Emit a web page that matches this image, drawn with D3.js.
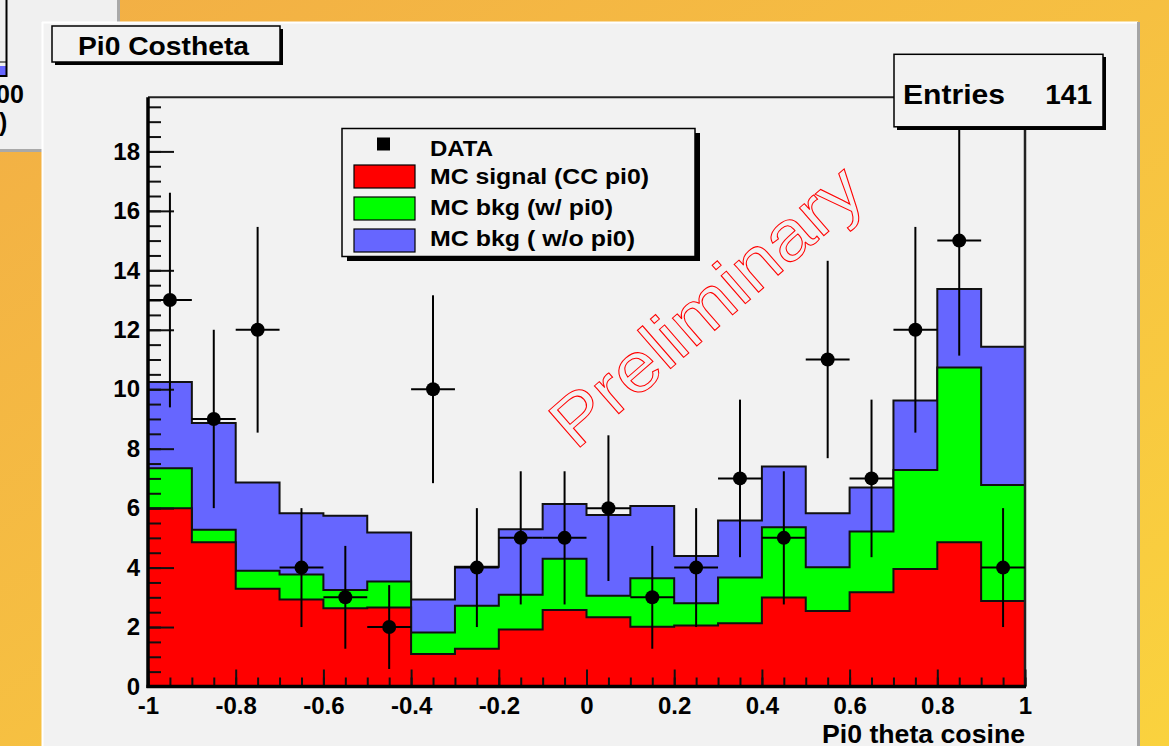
<!DOCTYPE html>
<html>
<head>
<meta charset="utf-8">
<script src="https://cdn.jsdelivr.net/npm/d3@7"></script>
<style>
  html, body { margin: 0; padding: 0; overflow: hidden; }
  svg { display: block; }
  text { font-family: "Liberation Sans", Arial, Helvetica, sans-serif; }
</style>
</head>
<body>
<svg id="c" width="1169" height="746"></svg>
<script>
// ---------------- data ----------------
const binLow = [-1.0, -0.9, -0.8, -0.7, -0.6, -0.5, -0.4, -0.3, -0.2, -0.1,
                 0.0,  0.1,  0.2,  0.3,  0.4,  0.5,  0.6,  0.7,  0.8,  0.9];
const binWidth = 0.1;
const mcSignal   = [6.00, 4.85, 3.29, 2.93, 2.63, 2.66, 1.09, 1.27, 1.92, 2.57,
                    2.33, 2.01, 2.05, 2.13, 2.99, 2.54, 3.17, 3.95, 4.85, 2.88];
const mcBkgPi0   = [1.34, 0.42, 0.60, 0.84, 0.62, 0.87, 0.73, 1.45, 1.17, 1.73,
                    0.72, 1.63, 0.75, 1.54, 2.37, 1.47, 2.04, 3.33, 5.88, 3.90];
const mcBkgNoPi0 = [2.90, 3.59, 2.97, 2.06, 2.49, 1.65, 1.11, 1.31, 2.20, 1.84,
                    2.72, 2.43, 1.59, 1.91, 2.04, 1.82, 1.48, 2.34, 2.64, 4.65];
const dataCounts = [13, 9, 12, 4, 3, 2, 10, 4, 5, 5, 6, 3, 4, 7, 5, 11, 7, 12, 15, 4];
const dataErr    = [3.61, 3.00, 3.46, 2.00, 1.73, 1.41, 3.16, 2.00, 2.24, 2.24,
                    2.45, 1.73, 2.00, 2.65, 2.24, 3.32, 2.65, 3.46, 3.87, 2.00];
const xTickValues = [-1, -0.8, -0.6, -0.4, -0.2, 0, 0.2, 0.4, 0.6, 0.8, 1];
const xTickLabels = ["-1", "-0.8", "-0.6", "-0.4", "-0.2", "0", "0.2", "0.4", "0.6", "0.8", "1"];
const yTickValues = [0, 2, 4, 6, 8, 10, 12, 14, 16, 18];
const yTickLabels = ["0", "2", "4", "6", "8", "10", "12", "14", "16", "18"];
const seriesNames  = ["MC signal (CC pi0)", "MC bkg (w/ pi0)", "MC bkg ( w/o pi0)"];
const seriesColors = ["#ff0000", "#00ff00", "#6666ff"];
const titleText = "Pi0 Costheta";
const xTitle = "Pi0 theta cosine";
const entries = 141;

// ---------------- setup ----------------
const svg = d3.select("#c");
const defs = svg.append("defs");
const g0 = defs.append("linearGradient").attr("id", "bg")
  .attr("x1", "0").attr("y1", "0").attr("x2", "1").attr("y2", "1");
g0.append("stop").attr("offset", "0").attr("stop-color", "#f2ae45");
g0.append("stop").attr("offset", "1").attr("stop-color", "#fad23e");
svg.append("rect").attr("width", 1169).attr("height", 746).attr("fill", "url(#bg)");

// background window (top-left, partly hidden)
const win = svg.append("g");
win.append("rect").attr("x", 0).attr("y", 0).attr("width", 118).attr("height", 150).attr("fill", "#f0f0f0");
win.append("line").attr("x1", 118.5).attr("x2", 118.5).attr("y1", 0).attr("y2", 151).attr("stroke", "#a9a9a9").attr("stroke-width", 3);
win.append("line").attr("x1", 0).attr("x2", 120).attr("y1", 150.5).attr("y2", 150.5).attr("stroke", "#a9a9a9").attr("stroke-width", 3);
win.append("rect").attr("x", -2).attr("y", 66).attr("width", 8).attr("height", 9).attr("fill", "#6666ff");
win.append("line").attr("x1", 6.5).attr("x2", 6.5).attr("y1", 0).attr("y2", 77).attr("stroke", "#000").attr("stroke-width", 2);
win.append("line").attr("x1", 0).attr("x2", 7).attr("y1", 62).attr("y2", 62).attr("stroke", "#000").attr("stroke-width", 1);
win.append("line").attr("x1", 0).attr("x2", 7).attr("y1", 76).attr("y2", 76).attr("stroke", "#000").attr("stroke-width", 2);
win.append("text").attr("x", -4).attr("y", 103).attr("font-size", 25).attr("font-weight", "bold").text("00");
win.append("text").attr("x", -1).attr("y", 131).attr("font-size", 25).attr("font-weight", "bold").text(")");

// main pad
svg.append("rect").attr("x", 42).attr("y", 22).attr("width", 1096).attr("height", 730).attr("fill", "#f2f2f2");
svg.append("line").attr("x1", 42).attr("x2", 1138).attr("y1", 22.5).attr("y2", 22.5).attr("stroke", "#ffffff").attr("stroke-width", 2);
svg.append("line").attr("x1", 42.5).attr("x2", 42.5).attr("y1", 22).attr("y2", 746).attr("stroke", "#ffffff").attr("stroke-width", 2);
svg.append("line").attr("x1", 1138.5).attr("x2", 1138.5).attr("y1", 22).attr("y2", 746).attr("stroke", "#a5a5a5").attr("stroke-width", 3);

// scales
const x = d3.scaleLinear().domain([-1, 1]).range([148, 1025]);
const y = d3.scaleLinear().domain([0, 19.82]).range([686.5, 97.3]);

// stacked histograms
const rows = binLow.map((b, i) => ({ low: b, s: mcSignal[i], p: mcBkgPi0[i], n: mcBkgNoPi0[i] }));
const stack = d3.stack().keys(["s", "p", "n"])(rows);
const area = d3.area().curve(d3.curveStepAfter)
  .x(d => x(d.x)).y0(y(0)).y1(d => y(d.v));
const hg = svg.append("g");
for (let k = stack.length - 1; k >= 0; k--) {
  const layer = stack[k];
  const pts = layer.map((d, i) => ({ x: binLow[i], v: d[1] }));
  pts.push({ x: binLow[binLow.length - 1] + binWidth, v: layer[layer.length - 1][1] });
  hg.append("path").datum(pts).attr("d", area)
    .attr("fill", seriesColors[k]).attr("stroke", "#111").attr("stroke-width", 2);
}

// frame
svg.append("line").attr("x1", x(-1)).attr("x2", 895).attr("y1", y.range()[1]).attr("y2", y.range()[1]).attr("stroke", "#222").attr("stroke-width", 2);
svg.append("line").attr("x1", x(1)).attr("x2", x(1)).attr("y1", y.range()[1]).attr("y2", y(0)).attr("stroke", "#222").attr("stroke-width", 2.5);

// axes
const axFont = g => g.selectAll("text").attr("font-size", 24).attr("font-weight", "bold")
  .attr("fill", "#000").attr("font-family", "Liberation Sans, Arial, sans-serif");
const yMinor = d3.range(0, 19.82, 0.5);
svg.append("g").attr("transform", `translate(${x(-1)},0)`)
  .call(d3.axisLeft(y).tickValues(yMinor).tickSize(-13).tickFormat(""))
  .call(g => g.select(".domain").remove())
  .call(g => g.selectAll("line").attr("stroke", "#111").attr("stroke-width", 2));
svg.append("g").attr("transform", `translate(${x(-1)},0)`)
  .call(d3.axisLeft(y).tickValues(yTickValues).tickSize(-26).tickPadding(8)
    .tickFormat((d, i) => yTickLabels[i]))
  .call(g => g.select(".domain").remove())
  .call(g => g.selectAll("line").attr("stroke", "#111").attr("stroke-width", 2))
  .call(axFont);
const xMinor = d3.range(-1, 1.001, 0.05);
svg.append("g").attr("transform", `translate(0,${y(0)})`)
  .call(d3.axisBottom(x).tickValues(xMinor).tickSize(-9).tickFormat(""))
  .call(g => g.select(".domain").remove())
  .call(g => g.selectAll("line").attr("stroke", "#111").attr("stroke-width", 2));
svg.append("g").attr("transform", `translate(0,${y(0)})`)
  .call(d3.axisBottom(x).tickValues(xTickValues).tickSize(-17).tickPadding(10)
    .tickFormat((d, i) => xTickLabels[i]))
  .call(g => g.select(".domain").remove())
  .call(g => g.selectAll("line").attr("stroke", "#111").attr("stroke-width", 2))
  .call(axFont);
svg.append("line").attr("x1", x(-1)).attr("x2", x(-1)).attr("y1", y.range()[1]).attr("y2", y(0) + 1.5)
  .attr("stroke", "#000").attr("stroke-width", 3.5);
svg.append("line").attr("x1", x(-1) - 1.5).attr("x2", x(1) + 1).attr("y1", y(0)).attr("y2", y(0))
  .attr("stroke", "#000").attr("stroke-width", 3.5);

svg.append("text").attr("x", x(1)).attr("y", 743).attr("text-anchor", "end")
  .attr("font-size", 26).attr("font-weight", "bold").attr("textLength", 203)
  .attr("lengthAdjust", "spacingAndGlyphs").text(xTitle);

// data points
const dg = svg.append("g");
dataCounts.forEach((c, i) => {
  const cx = x(binLow[i] + binWidth / 2);
  dg.append("line").attr("x1", cx).attr("x2", cx).attr("y1", y(c - dataErr[i])).attr("y2", y(c + dataErr[i]))
    .attr("stroke", "#000").attr("stroke-width", 2);
  dg.append("line").attr("x1", x(binLow[i])).attr("x2", x(binLow[i] + binWidth)).attr("y1", y(c)).attr("y2", y(c))
    .attr("stroke", "#000").attr("stroke-width", 2);
  dg.append("circle").attr("cx", cx).attr("cy", y(c)).attr("r", 7).attr("fill", "#000");
});

// preliminary watermark
svg.append("text").attr("transform", "translate(722,324) rotate(-41)")
  .attr("text-anchor", "middle").attr("font-size", 70)
  .attr("textLength", 388).attr("lengthAdjust", "spacingAndGlyphs")
  .attr("fill", "none").attr("stroke", "#ff0000").attr("stroke-width", 1)
  .text("Preliminary");

// legend
const lg = svg.append("g");
lg.append("rect").attr("x", 347).attr("y", 133).attr("width", 353).attr("height", 128).attr("fill", "#000");
lg.append("rect").attr("x", 342).attr("y", 128.5).attr("width", 353).attr("height", 128)
  .attr("fill", "#f2f2f2").attr("stroke", "#000").attr("stroke-width", 1.5);
lg.append("rect").attr("x", 377).attr("y", 137.5).attr("width", 13).attr("height", 13).attr("fill", "#000");
lg.append("text").attr("x", 430).attr("y", 156).attr("font-size", 22).attr("font-weight", "bold")
  .attr("textLength", 63).attr("lengthAdjust", "spacingAndGlyphs").text("DATA");
const legLens = [219, 183, 205];
seriesNames.forEach((name, i) => {
  const top = 165 + i * 32;
  lg.append("rect").attr("x", 354).attr("y", top).attr("width", 61).attr("height", 23)
    .attr("fill", seriesColors[i]).attr("stroke", "#000").attr("stroke-width", 1.2);
  lg.append("text").attr("x", 430).attr("y", 183.5 + i * 31).attr("font-size", 22).attr("font-weight", "bold")
    .attr("textLength", legLens[i]).attr("lengthAdjust", "spacingAndGlyphs").text(name);
});

// title box
svg.append("rect").attr("x", 55).attr("y", 29).attr("width", 228).attr("height", 36).attr("fill", "#000");
svg.append("rect").attr("x", 52).attr("y", 26).attr("width", 228).attr("height", 36)
  .attr("fill", "#f2f2f2").attr("stroke", "#000").attr("stroke-width", 1.5);
svg.append("text").attr("x", 78).attr("y", 54.5).attr("font-size", 26).attr("font-weight", "bold")
  .attr("textLength", 171).attr("lengthAdjust", "spacingAndGlyphs").text(titleText);

// stats box
svg.append("rect").attr("x", 897).attr("y", 57).attr("width", 209).attr("height", 73).attr("fill", "#000");
svg.append("rect").attr("x", 894).attr("y", 54.3).attr("width", 209).attr("height", 72.5)
  .attr("fill", "#f2f2f2").attr("stroke", "#000").attr("stroke-width", 1.5);
svg.append("text").attr("x", 903).attr("y", 103.5).attr("font-size", 28).attr("font-weight", "bold")
  .attr("textLength", 102).attr("lengthAdjust", "spacingAndGlyphs").text("Entries");
svg.append("text").attr("x", 1092).attr("y", 103.5).attr("text-anchor", "end").attr("font-size", 28)
  .attr("font-weight", "bold").text(String(entries));
</script>
</body>
</html>
